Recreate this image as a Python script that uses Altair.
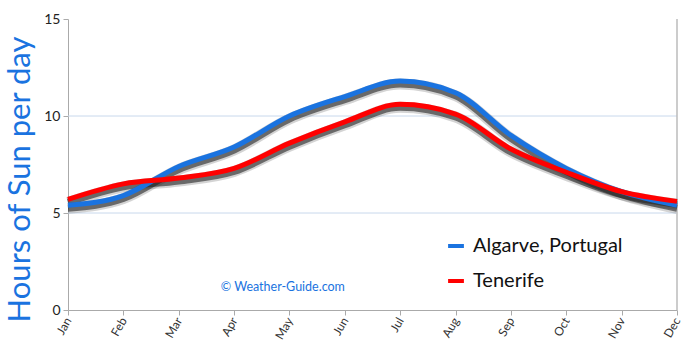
import altair as alt
import pandas as pd

months = ["Jan", "Feb", "Mar", "Apr", "May", "Jun", "Jul", "Aug", "Sep", "Oct", "Nov", "Dec"]
algarve = [5.4, 5.9, 7.4, 8.4, 10.0, 11.0, 11.8, 11.2, 9.0, 7.3, 6.1, 5.4]
tenerife = [5.7, 6.5, 6.8, 7.3, 8.6, 9.7, 10.6, 10.1, 8.3, 7.1, 6.1, 5.6]
series = ["Algarve, Portugal", "Tenerife"]
colors = ["#1A73E0", "#FF0000"]
grid_values = [5, 10]

rows = []
for m, a, t in zip(months, algarve, tenerife):
    rows.append({"month": m, "value": a, "place": series[0]})
    rows.append({"month": m, "value": t, "place": series[1]})
df = pd.DataFrame(rows)

FONT = "Lato"

x = alt.X("month:O", sort=months, scale=alt.Scale(type="point", padding=0),
          axis=alt.Axis(title=None, labelAngle=-60, labelFontSize=12, labelColor="#333",
                        labelFont=FONT, domainColor="#aaa", tickColor="#aaa", tickSize=5,
                        labelAlign="right", labelBaseline="middle", labelPadding=3, grid=False))
y = alt.Y("value:Q", scale=alt.Scale(domain=[0, 15]),
          axis=alt.Axis(title="Hours of Sun per day", titleFont=FONT, titleFontSize=31,
                        titleFontWeight="normal", titleColor="#1A73E0",
                        titleX=-32, titleY=160, titleAngle=-90, titleBaseline="bottom",
                        values=[0, 5, 10, 15], labelFontSize=14, labelColor="#222",
                        labelFont=FONT, domainColor="#aaa", tickColor="#aaa", tickSize=5,
                        labelPadding=3, grid=False))

grid = alt.Chart(pd.DataFrame({"v": grid_values})).mark_rule(color="#C8D8EC", strokeWidth=1).encode(
    y=alt.Y("v:Q", scale=alt.Scale(domain=[0, 15]))
)
border = alt.Chart(pd.DataFrame({"month": ["Dec"]})).mark_rule(color="#bbb", strokeWidth=1.5).encode(
    x=alt.X("month:O", sort=months, scale=alt.Scale(type="point", padding=0))
)

shadow = alt.Chart(df).mark_line(interpolate="monotone", strokeWidth=7, color="#222",
                                 opacity=0.6, yOffset=3).encode(
    x=x, y=y, detail="place:N"
)
shadow2 = alt.Chart(df).mark_line(interpolate="monotone", strokeWidth=11, color="#555",
                                  opacity=0.25, yOffset=3).encode(
    x=x, y=y, detail="place:N"
)
lines = alt.Chart(df).mark_line(interpolate="monotone", strokeWidth=5).encode(
    x=x, y=y,
    color=alt.Color("place:N", sort=series,
                    scale=alt.Scale(domain=series, range=colors),
                    legend=alt.Legend(title=None, orient="none", legendX=378, legendY=217,
                                      symbolType="stroke", symbolStrokeWidth=4, symbolSize=250,
                                      labelFontSize=20, labelFont=FONT, labelColor="#111",
                                      rowPadding=15, labelOffset=7))
)

wm = alt.Chart(pd.DataFrame({"t": ["©  Weather-Guide.com"], "month": ["Mar"], "value": [1.2]})).mark_text(
    color="#1A73E0", fontSize=12.5, font=FONT, align="left", dx=42
).encode(x=alt.X("month:O", sort=months, scale=alt.Scale(type="point", padding=0)),
         y=alt.Y("value:Q", scale=alt.Scale(domain=[0, 15])), text="t:N")

chart = alt.layer(grid, border, shadow2, shadow, lines, wm).properties(
    width=609, height=291,
    autosize=alt.AutoSizeParams(type="none"),
    padding={"left": 68, "top": 19, "right": 13, "bottom": 43},
    background="white",
).configure_view(stroke=None)

chart.save("out.html", embed_options={"renderer": "svg", "actions": False})
